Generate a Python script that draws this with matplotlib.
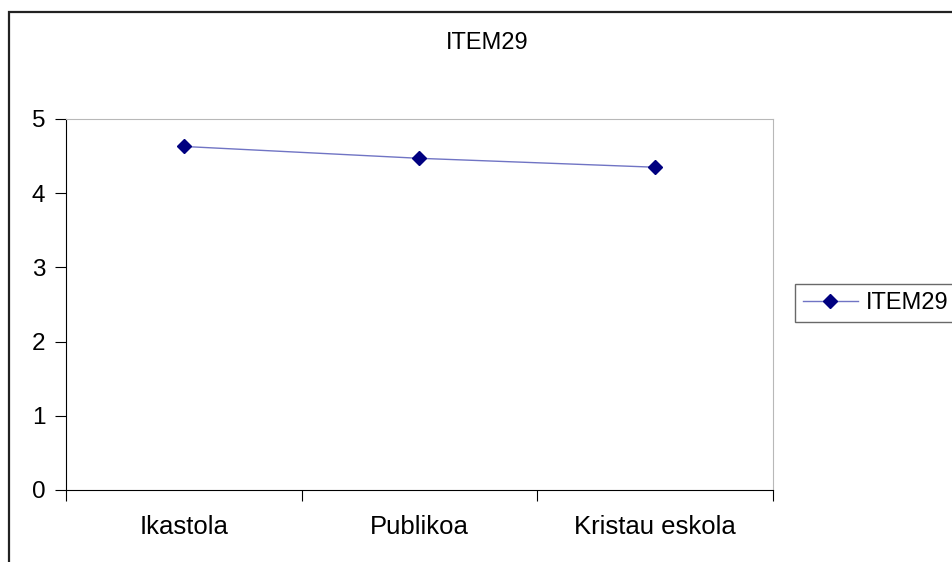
import matplotlib.pyplot as plt
from matplotlib.patches import Rectangle

plt.rcParams['font.family'] = ['Liberation Sans', 'DejaVu Sans']

# data
Categories = ['Ikastola', 'Publikoa', 'Kristau eskola']
Values = [4.63, 4.47, 4.35]
SeriesName = 'ITEM29'
YTicks = [0, 1, 2, 3, 4, 5]

W, H = 953, 562
fig = plt.figure(figsize=(W / 100, H / 100), dpi=100)

# outer chart border (cut off at right and bottom)
fig.add_artist(Rectangle((9 / W, -0.2), 1.5, (H - 12) / H + 0.2,
                         transform=fig.transFigure, fill=False,
                         edgecolor='#222222', linewidth=1.6))

ax = fig.add_axes([66 / W, (H - 490) / H, (773 - 66) / W, (490 - 119) / H])

X = list(range(len(Categories)))
ax.plot(X, Values, color='#7074c4', linewidth=1.0, marker='D', markersize=7,
        markerfacecolor='#000080', markeredgecolor='#000080', label=SeriesName)

ax.set_xlim(-0.5, len(Categories) - 0.5)
ax.set_ylim(0, 5)
ax.set_yticks(YTicks)
ax.tick_params(axis='y', labelsize=17.5, length=8, direction='out', pad=7)

# category boundaries get the tick marks, labels sit between them
ax.set_xticks([i - 0.5 for i in range(len(Categories) + 1)])
ax.set_xticklabels([])
ax.set_xticks(X, minor=True)
ax.set_xticklabels(Categories, minor=True)
ax.tick_params(axis='x', which='major', length=8, direction='out')
ax.tick_params(axis='x', which='minor', length=0, labelsize=18.5, pad=18)

for s in ['top', 'right']:
    ax.spines[s].set_color('#b8b8b8')
for s in ['left', 'bottom']:
    ax.spines[s].set_color('black')

fig.text(487 / W, (H - 43) / H, SeriesName, fontsize=17, ha='center', va='center')

leg = ax.legend(loc='center left', bbox_to_anchor=(795 / W, (H - 303) / H),
                bbox_transform=fig.transFigure, fontsize=17, frameon=True,
                fancybox=False, borderpad=0.35, handlelength=2.3,
                handletextpad=0.35, borderaxespad=0)
leg.get_frame().set_edgecolor('#444444')
leg.get_frame().set_linewidth(1.0)

plt.savefig('out.png', dpi=100)
plt.close()
